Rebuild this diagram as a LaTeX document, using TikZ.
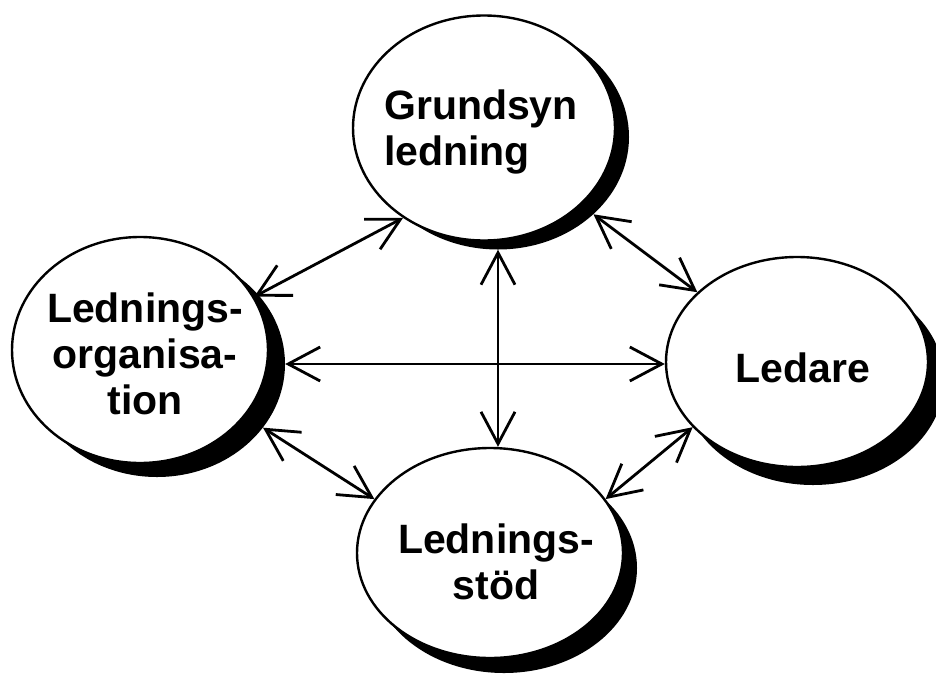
\documentclass[tikz,border=0pt]{standalone}
\usepackage{fontspec}
\setmainfont{Liberation Sans}
\usetikzlibrary{arrows.meta,shapes.geometric}

\tikzset{
  bubble/.style={ellipse, draw=black, line width=2.4pt, fill=white, inner sep=0pt},
  shade/.style={ellipse, fill=black, inner sep=0pt},
  word/.style={font=\fontsize{41}{46}\selectfont\bfseries, inner sep=0pt},
  biarrow/.style={line width=2.8pt, {Straight Barb[length=32pt,width=34pt]}-{Straight Barb[length=32pt,width=34pt]}},
}

\begin{document}
\begin{tikzpicture}[x=1pt, y=-1pt]
	%%%%% START %%%%%
	\useasboundingbox (0,0) rectangle (936,675);
	
	% shadows
	\node[shade, minimum width=262pt, minimum height=225pt] (grs) at (498,137) {};
	\node[shade, minimum width=256pt, minimum height=226pt] (los) at (157,364) {};
	\node[shade, minimum width=262pt, minimum height=210pt] (les) at (813,380) {};
	\node[shade, minimum width=266pt, minimum height=210pt] (sts) at (504,568) {};
	
	% ellipses
	\node[bubble, minimum width=262pt, minimum height=225pt] (gr) at (484,128) {};
	\node[bubble, minimum width=256pt, minimum height=226pt] (lo) at (140,350) {};
	\node[bubble, minimum width=262pt, minimum height=210pt] (le) at (797,362) {};
	\node[bubble, minimum width=266pt, minimum height=210pt] (st) at (490,553) {};
	
	% texts
	\node[word, align=left] (grt) at (481,132) {Grundsyn\\ledning};
	\node[word, align=center] (lot) at (145,354) {Lednings-\\organisa-\\tion};
	\node[word] (let) at (803,368) {Ledare};
	\node[word, align=center] (stt) at (496,562) {Lednings-\\stöd};
	
	% arrows
	\draw[biarrow] (lo.25) -- (gr.-132);
	\draw[biarrow] (grs.-39) -- (le.145);
	\draw[biarrow] (los.east) -- (los.east -| le.west);
	\draw[biarrow] (grs.south) -- (grs.south |- st.north);
	\draw[biarrow] (los.-31) -- (st.155);
	\draw[biarrow] (le.-148) -- (st.25);
	
	%%%%% END %%%%%
\end{tikzpicture}
\end{document}
